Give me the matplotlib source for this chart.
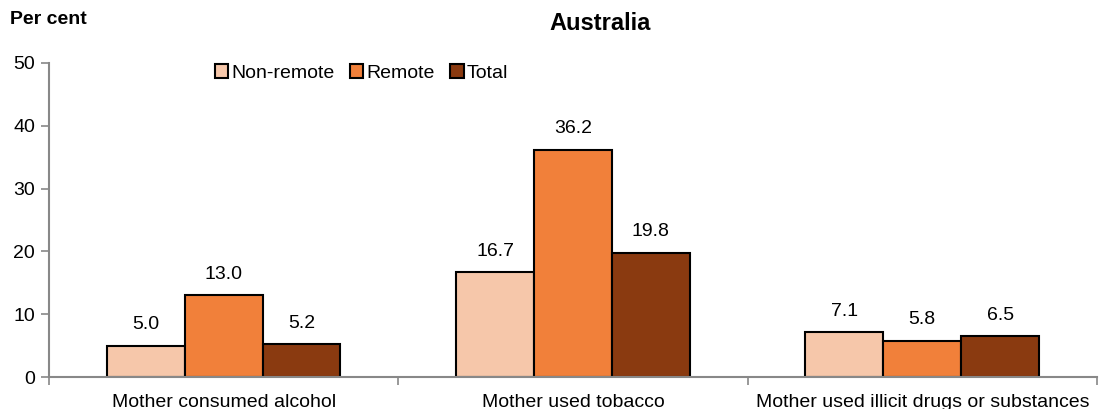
import numpy as np
import matplotlib
matplotlib.use('Agg')
import matplotlib.pyplot as plt

matplotlib.rc('font', family=['Liberation Sans', 'DejaVu Sans'])

categories = ['Mother consumed alcohol', 'Mother used tobacco',
              'Mother used illicit drugs or substances']
series = ['Non-remote', 'Remote', 'Total']
non_remote = [5.0, 16.7, 7.1]
remote = [13.0, 36.2, 5.8]
total = [5.2, 19.8, 6.5]
colors = ['#F6C7AA', '#F1803A', '#8A3A10']

fs = 14

fig = plt.figure(figsize=(11.08, 4.09), dpi=100)
ax = fig.add_axes([0.0442, 0.078, 0.9458, 0.768])

x = np.arange(len(categories))
w = 0.223
for i, (vals, name) in enumerate(zip([non_remote, remote, total], series)):
    pos = x + (i - 1) * w
    bars = ax.bar(pos, vals, width=w, color=colors[i], edgecolor='black',
                  linewidth=1.5, label=name)
    for b, v in zip(bars, vals):
        ax.text(b.get_x() + b.get_width() / 2, v + 2.0, '%.1f' % v,
                ha='center', va='bottom', fontsize=fs)

ax.set_xlim(-0.5, 2.5)
ax.set_ylim(0, 50)
ax.set_yticks([0, 10, 20, 30, 40, 50])
ax.tick_params(axis='y', labelsize=fs, length=6, color='#888888', width=1.2, pad=4)
ax.set_xticks(x)
ax.set_xticklabels(categories, fontsize=fs)
ax.tick_params(axis='x', length=0, pad=12)
ax.set_xticks([-0.5, 0.5, 1.5, 2.5], minor=True)
ax.tick_params(axis='x', which='minor', length=6, color='#888888', width=1.2)

for s in ['top', 'right']:
    ax.spines[s].set_visible(False)
for s in ['left', 'bottom']:
    ax.spines[s].set_color('#888888')
    ax.spines[s].set_linewidth(1.5)

leg = ax.legend(loc='upper left', bbox_to_anchor=(0.145, 1.04), ncol=3, frameon=False,
                fontsize=fs, handlelength=0.7, handleheight=0.7,
                handletextpad=0.15, columnspacing=0.8, borderpad=0.2)

fig.text(600 / 1108, 1 - 23 / 409, 'Australia', ha='center', va='center',
         fontsize=17, fontweight='bold')
fig.text(10 / 1108, 1 - 20 / 409, 'Per cent', ha='left', va='center',
         fontsize=14, fontweight='bold')

fig.savefig('out.png', dpi=100)
